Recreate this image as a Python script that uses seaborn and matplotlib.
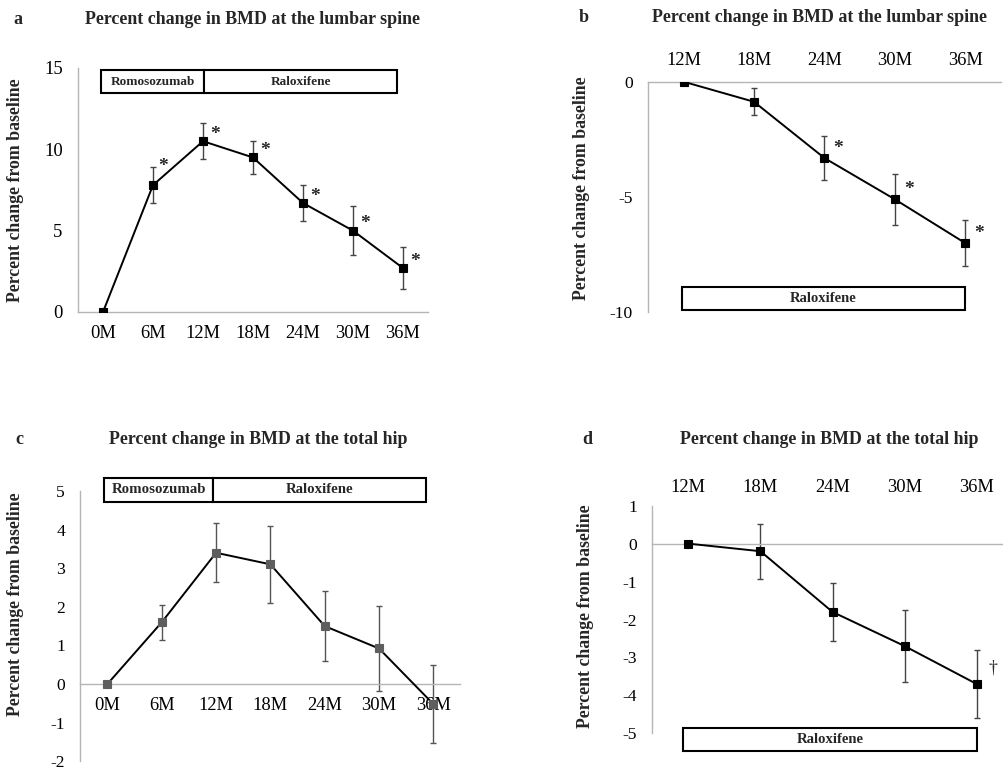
import numpy as np
import pandas as pd
import matplotlib
matplotlib.use("Agg")
import matplotlib.pyplot as plt
from matplotlib.patches import Rectangle
import seaborn as sns

sns.set_theme(style="white")
plt.rcParams['font.family'] = ['Liberation Serif', 'DejaVu Serif']
plt.rcParams['axes.unicode_minus'] = False

# ---------------- data ----------------
cats_full = ["0M", "6M", "12M", "18M", "24M", "30M", "36M"]
cats_ext = ["12M", "18M", "24M", "30M", "36M"]

a_vals = [0, 7.8, 10.5, 9.5, 6.7, 5.0, 2.7]
a_err = [0, 1.1, 1.1, 1.0, 1.1, 1.5, 1.3]
a_mark = ["", "*", "*", "*", "*", "*", "*"]

b_vals = [0, -0.87, -3.31, -5.1, -7.0]
b_err = [0, 0.58, 0.97, 1.1, 1.0]
b_mark = ["", "", "*", "*", "*"]

c_vals = [0, 1.6, 3.4, 3.1, 1.5, 0.92, -0.52]
c_err = [0, 0.45, 0.76, 1.0, 0.9, 1.1, 1.0]

d_vals = [0, -0.2, -1.8, -2.7, -3.7]
d_err = [0, 0.72, 0.76, 0.94, 0.89]
d_mark = ["", "", "", "", "\u2020"]

title_spine = "Percent change in BMD at the lumbar spine"
title_hip = "Percent change in BMD at the total hip"
ylabel = "Percent change from baseline"

W, H = 1004, 770
fig = plt.figure(figsize=(W / 100, H / 100), dpi=100)

def px_axes(x0, x1, y0, y1):
    return fig.add_axes([x0 / W, 1 - y1 / H, (x1 - x0) / W, (y1 - y0) / H])

def ftext(x, y, s, **kw):
    fig.text(x / W, 1 - y / H, s, **kw)

SPINE = "#b5b5b5"

def draw_series(ax, cats, vals, errs, marker_color="black", err_color="#444444"):
    df = pd.DataFrame({"t": cats, "v": vals})
    ax.errorbar(np.arange(len(cats)), vals, yerr=errs, fmt="none",
                ecolor=err_color, elinewidth=1.0, capsize=2.5, capthick=1.0, zorder=1)
    sns.pointplot(data=df, x="t", y="v", order=cats, color="black", markers="s",
                  linestyles="-", errorbar=None, ax=ax, markersize=6.0,
                  linewidth=1.4, markeredgewidth=0.8)
    ln = ax.lines[-1]
    ln.set_markerfacecolor(marker_color)
    ln.set_markeredgecolor(marker_color)
    ln.set_zorder(3)
    ax.set_xlabel("")
    ax.set_ylabel("")
    ax.set_xlim(-0.5, len(cats) - 0.5)

def marks(ax, vals, flags, dx=8, dy=7, size=14):
    for i, (v, f) in enumerate(zip(vals, flags)):
        if f:
            ax.annotate(f, xy=(i, v), xytext=(dx, dy), textcoords="offset points",
                        ha="center", va="center", fontsize=size, fontweight="bold")

def style_axes(ax):
    for s in ax.spines.values():
        s.set_color(SPINE)
        s.set_linewidth(1.0)
    ax.tick_params(length=0, colors="black")
    ax.tick_params(axis="x", labelsize=13.3)
    ax.tick_params(axis="y", labelsize=12.6)
    ax.grid(False)
    ax.set_facecolor("none")

def box(ax, x0, x1, y0, y1, label, fs):
    r = Rectangle((x0, y0), x1 - x0, y1 - y0, fill=True, facecolor="white",
                  edgecolor="black", linewidth=1.5, clip_on=False, zorder=4)
    ax.add_patch(r)
    ax.text((x0 + x1) / 2, (y0 + y1) / 2, label, ha="center", va="center",
            fontsize=fs, fontweight="bold", zorder=5, clip_on=False)

# ---------------- panel a ----------------
ax = px_axes(78, 428, 68, 312)
draw_series(ax, cats_full, a_vals, a_err)
ax.set_ylim(0, 15)
ax.set_yticks([0, 5, 10, 15])
style_axes(ax)
ax.spines["top"].set_visible(False)
ax.spines["right"].set_visible(False)
ax.tick_params(axis="y", pad=11, labelsize=13.5)
ax.tick_params(axis="x", pad=9)
box(ax, -0.03, 2.02, 13.45, 14.85, "Romosozumab", 9.5)
box(ax, 2.02, 5.88, 13.45, 14.85, "Raloxifene", 9.5)
for i, (v, f) in enumerate(zip(a_vals, a_mark)):
    if f:
        off = (7, 13.5) if i == 1 else (8.5, 5)
        ax.annotate(f, xy=(i, v), xytext=off, textcoords="offset points",
                    ha="center", va="center", fontsize=14, fontweight="bold")

# ---------------- panel b ----------------
ax = px_axes(648.3, 1000.5, 81.7, 312.3)
draw_series(ax, cats_ext, b_vals, b_err)
ax.set_ylim(-10, 0)
ax.set_yticks([-10, -5, 0])
style_axes(ax)
ax.spines["bottom"].set_visible(False)
ax.spines["right"].set_visible(False)
ax.xaxis.tick_top()
ax.tick_params(axis="y", pad=11)
ax.tick_params(axis="x", pad=9)
box(ax, -0.02, 3.99, -9.9, -8.9, "Raloxifene", 10.5)
marks(ax, b_vals, b_mark, dx=10, dy=7)

# ---------------- panel c ----------------
ax = px_axes(80.3, 460.5, 491, 761.2)
draw_series(ax, cats_full, c_vals, c_err, marker_color="#5e5e5e", err_color="#555555")
ax.set_ylim(-2, 5)
ax.set_yticks(list(range(-2, 6)))
style_axes(ax)
ax.spines["top"].set_visible(False)
ax.spines["right"].set_visible(False)
ax.spines["bottom"].set_position(("data", 0))
ax.tick_params(axis="y", pad=11)
ax.tick_params(axis="x", pad=9)
box(ax, -0.07, 1.95, 4.72, 5.34, "Romosozumab", 10.7)
box(ax, 1.95, 5.87, 4.72, 5.34, "Raloxifene", 10.7)

# ---------------- panel d ----------------
ax = px_axes(652.3, 1012.7, 505.7, 733.3)
draw_series(ax, cats_ext, d_vals, d_err)
ax.set_ylim(-5, 1)
ax.set_yticks(list(range(-5, 2)))
style_axes(ax)
ax.spines["top"].set_visible(False)
ax.spines["right"].set_visible(False)
ax.spines["bottom"].set_position(("data", 0))
ax.xaxis.tick_top()
ax.tick_params(axis="y", pad=11)
ax.tick_params(axis="x", pad=7)
box(ax, -0.07, 4.0, -5.47, -4.85, "Raloxifene", 10.6)
for i, (v, f) in enumerate(zip(d_vals, d_mark)):
    if f:
        ax.annotate(f, xy=(i, v), xytext=(11.5, 11.5), textcoords="offset points",
                    ha="center", va="center", fontsize=13, annotation_clip=False)

# ---------------- titles, letters, y labels ----------------
tkw = dict(ha="center", va="center", fontsize=12.9, fontweight="bold")
ftext(253, 20, title_spine, **tkw)
ftext(820, 17, title_spine, **tkw)
ftext(258, 440, title_hip, **tkw)
ftext(829, 439, title_hip, **tkw)
lkw = dict(ha="center", va="center", fontsize=13, fontweight="bold")
ftext(18, 19, "a", **lkw)
ftext(584, 17, "b", **lkw)
ftext(19, 440, "c", **lkw)
ftext(587, 439, "d", **lkw)
ykw = dict(ha="center", va="center", rotation=90, fontsize=12.8, fontweight="bold")
ftext(16, 190, ylabel, **ykw)
ftext(582, 188, ylabel, **ykw)
ftext(16, 604, ylabel, **ykw)
ftext(585, 616, ylabel, **ykw)

fig.savefig("out.png", dpi=100, facecolor="white")
